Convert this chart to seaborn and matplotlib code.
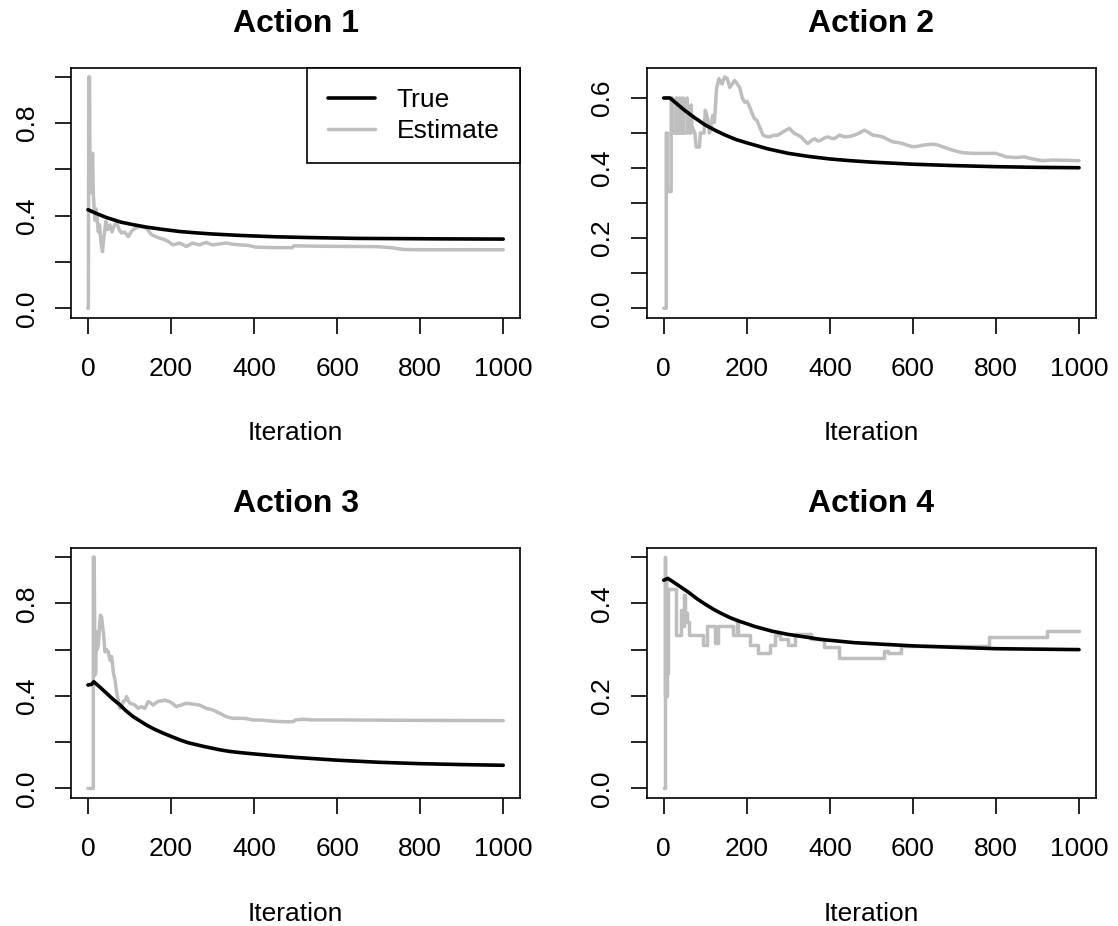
import matplotlib
matplotlib.use("Agg")
import matplotlib.pyplot as plt
import seaborn as sns

# ---------------- data ----------------
titles = ["Action 1", "Action 2", "Action 3", "Action 4"]
iter_ticks = [0, 200, 400, 600, 800, 1000]

# Action 1
true1_x = [0, 20, 45, 80, 110, 140, 180, 220, 260, 300, 365, 450, 550, 650, 750,
           850, 1000]
true1_y = [0.426, 0.410, 0.392, 0.372, 0.361, 0.351, 0.341, 0.332, 0.326, 0.321,
           0.315, 0.309, 0.305, 0.302, 0.301, 0.300, 0.299]
est1_x = [0, 1, 2, 4, 5, 7, 9, 11, 13, 15, 17, 19, 22, 25, 28, 31, 35, 38, 43, 48,
          53, 58, 64, 69, 75, 81, 88, 97, 104, 109, 118, 125, 133, 141, 153, 163,
          173, 183, 193, 205, 213, 221, 229, 237, 245, 253, 261, 269, 277, 285, 293,
          301, 317, 333, 349, 365, 385, 405, 450, 492, 496, 560, 640, 700, 730, 760,
          800, 1000]
est1_y = [0.0, 0.0, 1.0, 1.0, 0.5, 0.67, 0.5, 0.67, 0.49, 0.43, 0.38, 0.43, 0.39,
          0.33, 0.36, 0.29, 0.245, 0.30, 0.375, 0.34, 0.36, 0.33, 0.36, 0.37, 0.34,
          0.325, 0.33, 0.31, 0.33, 0.34, 0.35, 0.354, 0.35, 0.346, 0.318, 0.31,
          0.303, 0.298, 0.289, 0.274, 0.278, 0.282, 0.275, 0.267, 0.275, 0.282,
          0.277, 0.274, 0.28, 0.285, 0.278, 0.274, 0.278, 0.282, 0.277, 0.274,
          0.272, 0.264, 0.262, 0.262, 0.27, 0.268, 0.267, 0.266, 0.262, 0.254,
          0.253, 0.253]

# Action 2
true2_x = [0, 15, 30, 50, 75, 100, 125, 150, 175, 200, 250, 300, 350, 400, 450,
           500, 600, 700, 800, 900, 1000]
true2_y = [0.600, 0.600, 0.585, 0.565, 0.543, 0.523, 0.507, 0.493, 0.481, 0.472,
           0.455, 0.442, 0.433, 0.426, 0.421, 0.417, 0.411, 0.407, 0.404, 0.402,
           0.401]
est2_x = [0, 6, 6, 9, 9, 18, 18, 21, 21, 30, 30, 31, 31, 38, 38, 39, 39, 46, 46, 47,
          47, 56, 56, 58, 62, 66, 66, 68, 75, 78, 86, 88, 97, 100, 106, 110, 114,
          118, 122, 127, 133, 140, 147, 153, 159, 165, 171, 177, 183, 189, 195, 201,
          207, 213, 219, 225, 231, 239, 247, 255, 263, 275, 287, 297, 303, 309, 315,
          331, 339, 347, 355, 363, 371, 379, 387, 395, 403, 411, 423, 435, 447, 459,
          471, 483, 493, 503, 515, 527, 539, 551, 563, 575, 587, 599, 611, 623, 635,
          647, 659, 671, 683, 696, 708, 720, 744, 776, 800, 812, 824, 848, 868, 888,
          912, 936, 968, 1000]
est2_y = [0.0, 0.0, 0.5, 0.5, 0.333, 0.333, 0.6, 0.6, 0.5, 0.5, 0.6, 0.6, 0.5, 0.5,
          0.6, 0.6, 0.5, 0.5, 0.6, 0.6, 0.5, 0.5, 0.6, 0.55, 0.5, 0.5, 0.58, 0.52,
          0.5, 0.46, 0.46, 0.5, 0.5, 0.565, 0.54, 0.5, 0.52, 0.55, 0.53, 0.626,
          0.655, 0.64, 0.66, 0.655, 0.63, 0.64, 0.65, 0.64, 0.63, 0.6, 0.588, 0.59,
          0.574, 0.555, 0.54, 0.535, 0.517, 0.494, 0.49, 0.489, 0.493, 0.494, 0.503,
          0.51, 0.513, 0.505, 0.499, 0.489, 0.478, 0.47, 0.478, 0.484, 0.477, 0.48,
          0.486, 0.489, 0.485, 0.484, 0.494, 0.489, 0.49, 0.494, 0.5, 0.508, 0.502,
          0.494, 0.492, 0.489, 0.482, 0.475, 0.473, 0.47, 0.465, 0.461, 0.462,
          0.465, 0.467, 0.468, 0.466, 0.461, 0.456, 0.451, 0.447, 0.444, 0.442,
          0.442, 0.442, 0.437, 0.432, 0.43, 0.432, 0.426, 0.421, 0.423, 0.422, 0.421]

# Action 3
true3_x = [0, 9, 14, 30, 45, 60, 77, 90, 109, 125, 141, 160, 181, 200, 221, 240,
           261, 280, 301, 320, 341, 365, 400, 450, 500, 600, 700, 800, 900, 1000]
true3_y = [0.447, 0.450, 0.461, 0.436, 0.411, 0.386, 0.361, 0.338, 0.310, 0.292,
           0.274, 0.256, 0.239, 0.225, 0.210, 0.198, 0.189, 0.181, 0.173, 0.166,
           0.160, 0.155, 0.149, 0.141, 0.134, 0.122, 0.113, 0.107, 0.103, 0.100]
est3_x = [0, 13, 13, 15, 17, 19, 20, 22, 25, 28, 30, 33, 35, 38, 41, 45, 49, 53, 57,
          61, 65, 69, 73, 77, 81, 85, 89, 93, 97, 101, 107, 113, 121, 125, 129, 133,
          137, 141, 145, 151, 157, 165, 173, 179, 185, 191, 197, 205, 213, 219, 225,
          231, 237, 245, 253, 261, 269, 277, 285, 293, 301, 309, 317, 325, 333, 341,
          349, 365, 380, 397, 420, 450, 480, 494, 500, 518, 540, 600, 700, 800, 1000]
est3_y = [0.0, 0.0, 1.0, 1.0, 0.49, 0.5, 0.677, 0.6, 0.62, 0.7, 0.749, 0.74, 0.705,
          0.66, 0.59, 0.6, 0.59, 0.555, 0.57, 0.504, 0.47, 0.418, 0.38, 0.346, 0.36,
          0.375, 0.38, 0.397, 0.38, 0.368, 0.365, 0.36, 0.346, 0.35, 0.353, 0.35,
          0.346, 0.36, 0.375, 0.37, 0.36, 0.372, 0.378, 0.378, 0.382, 0.378, 0.375,
          0.365, 0.353, 0.358, 0.36, 0.365, 0.368, 0.366, 0.364, 0.362, 0.36, 0.353,
          0.346, 0.343, 0.339, 0.332, 0.325, 0.318, 0.31, 0.306, 0.303, 0.303,
          0.302, 0.296, 0.295, 0.29, 0.288, 0.289, 0.296, 0.299, 0.296, 0.296,
          0.295, 0.294, 0.293]

# Action 4
true4_x = [0, 10, 30, 58, 80, 100, 120, 139, 160, 180, 200, 219, 240, 260, 299,
           379, 459, 539, 603, 700, 800, 900, 1000]
true4_y = [0.450, 0.454, 0.442, 0.425, 0.410, 0.398, 0.387, 0.378, 0.369, 0.362,
           0.356, 0.350, 0.345, 0.340, 0.333, 0.322, 0.315, 0.311, 0.308, 0.305,
           0.302, 0.301, 0.300]
est4_x = [0, 2, 2, 3, 3, 5, 5, 6, 6, 8, 8, 9, 9, 10, 10, 30, 30, 42, 42, 46, 46, 48,
          48, 52, 52, 55, 55, 62, 62, 94, 94, 103, 103, 123, 123, 131, 131, 167,
          167, 176, 176, 180, 180, 207, 207, 227, 227, 255, 255, 267, 267, 279, 279,
          299, 299, 315, 315, 355, 355, 387, 387, 423, 423, 531, 531, 539, 539, 571,
          571, 784, 784, 924, 924, 1000]
est4_y = [0.0, 0.0, 0.5, 0.5, 0.2, 0.2, 0.45, 0.45, 0.2, 0.2, 0.43, 0.43, 0.25,
          0.25, 0.43, 0.43, 0.332, 0.332, 0.385, 0.385, 0.35, 0.35, 0.418, 0.418,
          0.38, 0.38, 0.36, 0.36, 0.332, 0.332, 0.31, 0.31, 0.35, 0.35, 0.314,
          0.314, 0.35, 0.35, 0.332, 0.332, 0.364, 0.364, 0.332, 0.332, 0.31, 0.31,
          0.292, 0.292, 0.31, 0.31, 0.332, 0.332, 0.324, 0.324, 0.31, 0.31, 0.333,
          0.333, 0.324, 0.324, 0.306, 0.306, 0.281, 0.281, 0.296, 0.296, 0.292,
          0.292, 0.3085, 0.3085, 0.3265, 0.3265, 0.341, 0.341]

yticks_a = [0.0, 0.2, 0.4, 0.6, 0.8, 1.0]
ylabels_a = ["0.0", "", "0.4", "", "0.8", ""]
yticks_b = [0.0, 0.1, 0.2, 0.3, 0.4, 0.5, 0.6]
ylabels_b = ["0.0", "", "0.2", "", "0.4", "", "0.6"]
yticks_c = [0.0, 0.1, 0.2, 0.3, 0.4, 0.5]
ylabels_c = ["0.0", "", "0.2", "", "0.4", ""]

panels = [
    (true1_x, true1_y, est1_x, est1_y, yticks_a, ylabels_a),
    (true2_x, true2_y, est2_x, est2_y, yticks_b, ylabels_b),
    (true3_x, true3_y, est3_x, est3_y, yticks_a, ylabels_a),
    (true4_x, true4_y, est4_x, est4_y, yticks_c, ylabels_c),
]

# ---------------- style ----------------
sns.set_theme(style="ticks")
plt.rcParams["font.family"] = ["Liberation Sans", "DejaVu Sans"]
plt.rcParams["text.color"] = "black"

TRUE_COLOR = "black"
EST_COLOR = "#BEBEBE"
FS = 19

fig, axes = plt.subplots(2, 2, figsize=(11.18, 9.26), dpi=100)
fig.subplots_adjust(left=0.0638, right=0.9800, bottom=0.1386, top=0.9269,
                    wspace=0.2838, hspace=0.922)

for i, (ax, title, (tx, ty, ex, ey, yt, yl)) in enumerate(zip(axes.flat, titles, panels)):
    sns.lineplot(x=ex, y=ey, ax=ax, color=EST_COLOR, linewidth=2.5,
                 sort=False, estimator=None, legend=False, zorder=2)
    sns.lineplot(x=tx, y=ty, ax=ax, color=TRUE_COLOR, linewidth=2.6,
                 sort=False, estimator=None, legend=False, zorder=3)
    ax.margins(x=0.04, y=0.04)

    ax.set_xticks(iter_ticks)
    ax.set_xticklabels([str(t) for t in iter_ticks])
    ax.set_yticks(yt)
    ax.set_yticklabels(yl, rotation=90, va="center")

    ax.tick_params(axis="both", direction="out", length=11.5, width=1.2,
                   color="black", labelcolor="black", labelsize=FS)
    ax.tick_params(axis="x", pad=17)
    ax.tick_params(axis="y", pad=12)

    for side in ["left", "right", "top", "bottom"]:
        ax.spines[side].set_visible(True)
        ax.spines[side].set_color("black")
        ax.spines[side].set_linewidth(1.2)

    ax.set_xlabel("Iteration", fontsize=FS, color="black", labelpad=29)
    ax.set_ylabel("")
    ax.set_title(title, fontsize=23, fontweight="bold", color="black", pad=25.5)

    if i == 0:
        lines = ax.get_lines()
        leg = ax.legend(handles=[lines[1], lines[0]], labels=["True", "Estimate"],
                        loc="upper right", borderaxespad=0, frameon=True,
                        fancybox=False, edgecolor="black", framealpha=1,
                        fontsize=FS, handlelength=1.8, handletextpad=0.8,
                        borderpad=0.78, labelspacing=0.25, labelcolor="black")
        leg.get_frame().set_linewidth(1.2)

fig.savefig("out.png", dpi=100, facecolor="white")
